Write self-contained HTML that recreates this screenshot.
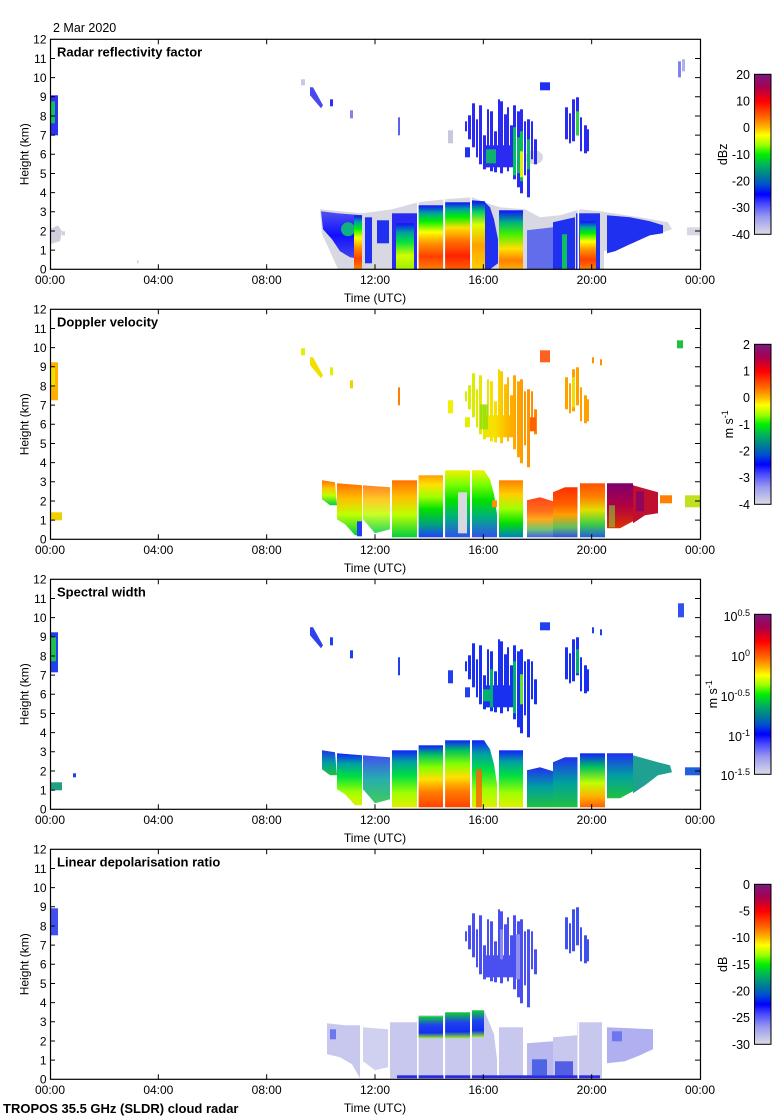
<!DOCTYPE html>
<html><head><meta charset="utf-8">
<style>
html,body{margin:0;padding:0;background:#fff;}
svg{display:block;}
text{font-family:"Liberation Sans",Arial,sans-serif;fill:#000;}
.t{font-size:12px;}
.c{font-size:12.5px;}
.b{font-size:13px;font-weight:bold;}
</style></head><body>
<svg width="780" height="1120" viewBox="0 0 780 1120" xmlns="http://www.w3.org/2000/svg">
<defs>
<clipPath id="cp"><rect x="50" y="0" width="650" height="230"/></clipPath>
<linearGradient id="cb" x1="0" y1="0" x2="0" y2="1">
<stop offset="0" stop-color="#7a1a7e"/><stop offset="0.08" stop-color="#a80050"/><stop offset="0.17" stop-color="#ff0000"/><stop offset="0.27" stop-color="#ff6a00"/><stop offset="0.33" stop-color="#ffb400"/><stop offset="0.38" stop-color="#ffff00"/><stop offset="0.44" stop-color="#a0ff00"/><stop offset="0.5" stop-color="#00f000"/><stop offset="0.57" stop-color="#00b060"/><stop offset="0.63" stop-color="#008090"/><stop offset="0.69" stop-color="#0050d0"/><stop offset="0.75" stop-color="#0000ff"/><stop offset="0.81" stop-color="#4848ff"/><stop offset="0.89" stop-color="#9898f0"/><stop offset="1" stop-color="#dcdce6"/>
</linearGradient>
<linearGradient id="zB" x1="0" y1="0" x2="0" y2="1"><stop offset="0" stop-color="#5050f0"/><stop offset="0.5" stop-color="#1010ff"/><stop offset="1" stop-color="#4848e8"/></linearGradient>
<linearGradient id="zC" x1="0" y1="0" x2="0" y2="1"><stop offset="0" stop-color="#1010ff"/><stop offset="0.12" stop-color="#00a0a0"/><stop offset="0.25" stop-color="#00f000"/><stop offset="0.42" stop-color="#ffff00"/><stop offset="0.6" stop-color="#ff9000"/><stop offset="0.8" stop-color="#ff4000"/><stop offset="1" stop-color="#ff8000"/></linearGradient>
<linearGradient id="zC2" x1="0" y1="0" x2="0" y2="1"><stop offset="0" stop-color="#1010ff"/><stop offset="0.1" stop-color="#00a0a0"/><stop offset="0.22" stop-color="#00f000"/><stop offset="0.38" stop-color="#ffe000"/><stop offset="0.58" stop-color="#ff7000"/><stop offset="0.8" stop-color="#ff2000"/><stop offset="1" stop-color="#ff6000"/></linearGradient>
<linearGradient id="zM" x1="0" y1="0" x2="0" y2="1"><stop offset="0" stop-color="#1010ff"/><stop offset="0.2" stop-color="#00a0a0"/><stop offset="0.4" stop-color="#00e040"/><stop offset="0.7" stop-color="#d0ff00"/><stop offset="1" stop-color="#a0f000"/></linearGradient>
<linearGradient id="zM2" x1="0" y1="0" x2="0" y2="1"><stop offset="0" stop-color="#1010ff"/><stop offset="0.15" stop-color="#00d060"/><stop offset="0.35" stop-color="#e0ff00"/><stop offset="0.65" stop-color="#ffa000"/><stop offset="1" stop-color="#ffd000"/></linearGradient>
<linearGradient id="zM3" x1="0" y1="0" x2="0" y2="1"><stop offset="0" stop-color="#1010ff"/><stop offset="0.2" stop-color="#00b080"/><stop offset="0.4" stop-color="#40f000"/><stop offset="0.65" stop-color="#ffe000"/><stop offset="0.85" stop-color="#ff8000"/><stop offset="1" stop-color="#ffb000"/></linearGradient>
<linearGradient id="vA" x1="0" y1="0" x2="0" y2="1"><stop offset="0" stop-color="#ff7000"/><stop offset="0.3" stop-color="#ffc000"/><stop offset="0.6" stop-color="#c0ff00"/><stop offset="1" stop-color="#00d040"/></linearGradient>
<linearGradient id="vC" x1="0" y1="0" x2="0" y2="1"><stop offset="0" stop-color="#ffa000"/><stop offset="0.15" stop-color="#ffe000"/><stop offset="0.35" stop-color="#a0ff00"/><stop offset="0.55" stop-color="#00e000"/><stop offset="0.8" stop-color="#00a080"/><stop offset="1" stop-color="#2040ff"/></linearGradient>
<linearGradient id="vE" x1="0" y1="0" x2="0" y2="1"><stop offset="0" stop-color="#f0f000"/><stop offset="0.2" stop-color="#80ff00"/><stop offset="0.45" stop-color="#00e000"/><stop offset="0.7" stop-color="#00b080"/><stop offset="1" stop-color="#3050f0"/></linearGradient>
<linearGradient id="vH" x1="0" y1="0" x2="0" y2="1"><stop offset="0" stop-color="#ff8000"/><stop offset="0.25" stop-color="#ffd000"/><stop offset="0.5" stop-color="#a0ff00"/><stop offset="0.75" stop-color="#00e000"/><stop offset="1" stop-color="#0080c0"/></linearGradient>
<linearGradient id="vR" x1="0" y1="0" x2="0" y2="1"><stop offset="0" stop-color="#ff3000"/><stop offset="0.35" stop-color="#ff6000"/><stop offset="0.55" stop-color="#ffa000"/><stop offset="0.8" stop-color="#60c060"/><stop offset="1" stop-color="#3050e0"/></linearGradient>
<linearGradient id="vK" x1="0" y1="0" x2="0" y2="1"><stop offset="0" stop-color="#ff5000"/><stop offset="0.25" stop-color="#ff8000"/><stop offset="0.5" stop-color="#e0e000"/><stop offset="0.75" stop-color="#40d040"/><stop offset="1" stop-color="#2060e0"/></linearGradient>
<linearGradient id="vP" x1="0" y1="0" x2="0" y2="1"><stop offset="0" stop-color="#800070"/><stop offset="0.5" stop-color="#b00040"/><stop offset="1" stop-color="#e03000"/></linearGradient>
<linearGradient id="vU" gradientUnits="userSpaceOnUse" x1="465" y1="0" x2="540" y2="0"><stop offset="0" stop-color="#d0f000"/><stop offset="0.4" stop-color="#f8e000"/><stop offset="0.6" stop-color="#ffb000"/><stop offset="1" stop-color="#ff8000"/></linearGradient>
<linearGradient id="wA" x1="0" y1="0" x2="0" y2="1"><stop offset="0" stop-color="#1020ff"/><stop offset="0.2" stop-color="#00a0a0"/><stop offset="0.45" stop-color="#00e040"/><stop offset="0.75" stop-color="#a0ff00"/><stop offset="1" stop-color="#e0f000"/></linearGradient>
<linearGradient id="wC" x1="0" y1="0" x2="0" y2="1"><stop offset="0" stop-color="#1020ff"/><stop offset="0.15" stop-color="#00c060"/><stop offset="0.35" stop-color="#80ff00"/><stop offset="0.55" stop-color="#ffe000"/><stop offset="0.75" stop-color="#ff8000"/><stop offset="1" stop-color="#ff4000"/></linearGradient>
<linearGradient id="wB" x1="0" y1="0" x2="0" y2="1"><stop offset="0" stop-color="#2030f0"/><stop offset="0.5" stop-color="#00a0a0"/><stop offset="1" stop-color="#20c040"/></linearGradient>
<linearGradient id="wK" x1="0" y1="0" x2="0" y2="1"><stop offset="0" stop-color="#1020ff"/><stop offset="0.25" stop-color="#00c060"/><stop offset="0.55" stop-color="#c0ff00"/><stop offset="0.8" stop-color="#ffb000"/><stop offset="1" stop-color="#ff6000"/></linearGradient>
<linearGradient id="lG" x1="0" y1="0" x2="0" y2="1"><stop offset="0" stop-color="#10d030"/><stop offset="0.4" stop-color="#2040f0"/><stop offset="0.75" stop-color="#1030f0"/><stop offset="1" stop-color="#a0f020"/></linearGradient>
<g id="upc">
<rect x="465" y="82" width="2" height="10"/><rect x="468" y="76" width="3" height="24"/><rect x="472" y="64" width="3" height="44"/><rect x="476" y="80" width="2" height="38"/><rect x="479" y="66" width="3" height="59"/><rect x="483" y="96" width="3" height="34"/><rect x="487" y="70" width="2" height="58"/><rect x="490" y="72" width="3" height="60"/><rect x="494" y="92" width="3" height="41"/><rect x="498" y="60" width="2" height="48"/><rect x="500" y="62" width="3" height="72"/><rect x="504" y="75" width="3" height="50"/><rect x="507" y="68" width="2" height="64"/><rect x="510" y="86" width="3" height="40"/><rect x="513" y="66" width="3" height="74"/><rect x="517" y="72" width="3" height="76"/><rect x="520" y="70" width="3" height="84"/><rect x="524" y="82" width="2" height="54"/><rect x="527" y="80" width="3" height="78"/><rect x="531" y="82" width="2" height="38"/><rect x="534" y="100" width="3" height="25"/>
<rect x="483" y="106" width="30" height="22"/>
</g>
<g id="upc2">
<rect x="565" y="68" width="3" height="32"/><rect x="569" y="74" width="2" height="30"/><rect x="572" y="60" width="3" height="42"/><rect x="576" y="58" width="3" height="38"/><rect x="580" y="78" width="2" height="34"/><rect x="584" y="86" width="3" height="28"/><rect x="587" y="90" width="2" height="22"/>
</g>
</defs>

<rect width="780" height="1120" fill="#fff"/>
<text class="c" x="53" y="32">2 Mar 2020</text>

<!-- ================= PANEL 1 ================= -->
<g transform="translate(0,39.3)">
<g clip-path="url(#cp)">
<path fill="#d8d8e2" d="M320,170 L340,172 L362,174 L392,170 L418,163 L445,160 L472,158 L490,165 L500,168 L525,170 L540,178 L560,176 L580,170 L600,172 L640,178 L668,183 L672,190 L660,194 L640,198 L620,206 L604,212 L604,230 L338,230 L330,212 L322,195 Z"/>
<path fill="url(#zB)" d="M321,172 L337,174 L362,176 L362,220 L350,218 L340,212 L332,200 L323,190 Z"/>
<ellipse cx="348" cy="190" rx="7" ry="7" fill="#10b080"/>
<rect x="354" y="176" width="8" height="54" fill="url(#zC)"/>
<rect x="365" y="178" width="7" height="46" fill="#2030f0"/>
<rect x="377" y="181" width="12" height="23" fill="#2030f0"/>
<rect x="392" y="174" width="25" height="56" fill="#2a2af0"/>
<rect x="396" y="184" width="18" height="46" fill="url(#zM)"/>
<rect x="418" y="166" width="25" height="64" fill="url(#zC)"/>
<rect x="445" y="163" width="25" height="67" fill="url(#zC2)"/>
<path fill="#2030f0" d="M472,161 L484,162 L490,168 L494,180 L498,200 L498,224 L490,230 L472,230Z"/>
<rect x="472" y="162" width="13" height="68" fill="url(#zM2)"/>
<rect x="499" y="171" width="24" height="59" fill="url(#zM3)"/>
<path fill="#3040f0" opacity=".7" d="M527,191 L553,188 L553,230 L527,230Z"/>
<path fill="#2030f0" d="M553,183 L575,178 L575,230 L553,230Z"/>
<rect x="562" y="195" width="5" height="35" fill="#10c060"/>
<rect x="576" y="174" width="24" height="56" fill="#2030f0"/>
<rect x="580" y="182" width="16" height="48" fill="url(#zC)"/>
<path fill="#2030f0" d="M607,176 L630,178 L650,182 L663,186 L663,194 L650,196 L630,205 L615,212 L607,214Z"/>
<rect x="687" y="188" width="13" height="8" fill="#d8d8e2"/>
<g fill="#fff"><rect x="417" y="150" width="1.6" height="80"/><rect x="443.5" y="150" width="1.6" height="80"/><rect x="470.3" y="150" width="1.6" height="80"/><rect x="577.5" y="150" width="1.6" height="80"/></g>
<!-- upper clouds -->
<ellipse cx="534" cy="118" rx="9" ry="7" fill="#d8d8e2"/>
<use href="#upc" fill="#2a2af0"/>
<rect x="513" y="88" width="3" height="48" fill="#00c060"/>
<rect x="517" y="98" width="3" height="36" fill="#10b070"/>
<rect x="520" y="92" width="3" height="50" fill="#00c060"/>
<rect x="520" y="112" width="3" height="26" fill="#e0f000"/>
<rect x="527" y="100" width="3" height="30" fill="#10b070"/>
<rect x="486" y="110" width="10" height="14" fill="#10b070"/>
<use href="#upc2" fill="#2a2af0"/>
<rect x="576" y="72" width="3" height="24" fill="#30d040"/>
<rect x="540" y="43" width="10" height="8" fill="#2030f0"/>
<rect x="678" y="22" width="3" height="16" fill="#8080f0"/><rect x="682" y="20" width="3" height="12" fill="#b0b0f0"/>
<rect x="301" y="40" width="4" height="6" fill="#c8c8e0"/>
<path fill="#4848f0" d="M310,48 L313,48 L323,66 L321,69 L310,56Z"/>
<rect x="330" y="60" width="3" height="7" fill="#3030f0"/>
<rect x="350" y="71" width="3" height="8" fill="#8080f0"/>
<rect x="398" y="78" width="2" height="18" fill="#6060f0"/>
<rect x="448" y="91" width="5" height="13" fill="#c8c8dc"/>
<rect x="465" y="108" width="5" height="10" fill="#2030f0"/>
<rect x="50" y="56" width="8" height="40" fill="#3030f0"/>
<rect x="50" y="62" width="5" height="22" fill="#10c060"/>
<path fill="#d0d0dc" d="M50,190 L58,186 L62,192 L60,202 L50,205Z"/>
<rect x="62" y="192" width="3" height="4" fill="#d0d0dc"/>
<rect x="137" y="221" width="1.5" height="3" fill="#d0d0dc"/>
</g>
<rect x="50.5" y="0" width="650" height="230" fill="none" stroke="#000" stroke-width="1.2"/>
<path stroke="#000" stroke-width="1" fill="none" d="M50,19.17h5M50,38.33h5M50,57.5h5M50,76.67h5M50,95.83h5M50,115h5M50,134.17h5M50,153.33h5M50,172.5h5M50,191.67h5M50,210.83h5M700,19.17h-5M700,38.33h-5M700,57.5h-5M700,76.67h-5M700,95.83h-5M700,115h-5M700,134.17h-5M700,153.33h-5M700,172.5h-5M700,191.67h-5M700,210.83h-5M158.33,0v5M266.67,0v5M375,0v5M483.33,0v5M591.67,0v5M158.33,230v-5M266.67,230v-5M375,230v-5M483.33,230v-5M591.67,230v-5"/>
<g class="t" text-anchor="end"><text x="46.5" y="234.3">0</text><text x="46.5" y="215.1">1</text><text x="46.5" y="196">2</text><text x="46.5" y="176.8">3</text><text x="46.5" y="157.6">4</text><text x="46.5" y="138.5">5</text><text x="46.5" y="119.3">6</text><text x="46.5" y="100.1">7</text><text x="46.5" y="81">8</text><text x="46.5" y="61.8">9</text><text x="46.5" y="42.6">10</text><text x="46.5" y="23.5">11</text><text x="46.5" y="4.3">12</text></g>
<g class="t" text-anchor="middle"><text x="50" y="244.5">00:00</text><text x="158.33" y="244.5">04:00</text><text x="266.67" y="244.5">08:00</text><text x="375" y="244.5">12:00</text><text x="483.33" y="244.5">16:00</text><text x="591.67" y="244.5">20:00</text><text x="700" y="244.5">00:00</text><text x="375" y="262.5">Time (UTC)</text></g>
<text class="t" text-anchor="middle" transform="translate(28.5,115) rotate(-90)">Height (km)</text>
<text class="b" x="57" y="17">Radar reflectivity factor</text>
<rect x="754.5" y="35" width="16.5" height="160" fill="url(#cb)" stroke="#000" stroke-width="1"/>
<g class="c" text-anchor="end"><text x="750" y="39.5">20</text><text x="750" y="66.2">10</text><text x="750" y="92.8">0</text><text x="750" y="119.5">-10</text><text x="750" y="146.2">-20</text><text x="750" y="172.8">-30</text><text x="750" y="199.5">-40</text></g>
<text class="c" text-anchor="middle" transform="translate(727,115) rotate(-90)">dBz</text>
</g>

<!-- ================= PANEL 2 ================= -->
<g transform="translate(0,309.3)">
<g clip-path="url(#cp)">
<path fill="url(#vA)" d="M322,171 L335,173 L337,196 L330,196 L322,190Z"/>
<path fill="url(#vA)" d="M337,174 L362,176 L362,226 L355,226 L345,215 L337,210Z"/>
<rect x="357" y="212" width="5" height="15" fill="#2040f0"/>
<path fill="url(#vA)" opacity=".85" d="M363,176 L390,178 L390,220 L375,224 L363,210Z"/>
<rect x="392" y="171" width="25" height="57" fill="url(#vA)"/>
<rect x="418" y="166" width="25" height="62" fill="url(#vC)"/>
<rect x="445" y="161" width="25" height="67" fill="url(#vE)"/>
<rect x="458" y="183" width="9" height="41" fill="#d8d8e0"/>
<path fill="url(#vE)" d="M472,161 L484,161 L490,170 L494,185 L497,205 L497,228 L472,228Z"/>
<rect x="492" y="191" width="5" height="7" fill="#ff9000"/>
<rect x="499" y="171" width="24" height="57" fill="url(#vH)"/>
<path fill="url(#vR)" opacity=".9" d="M527,191 L540,188 L553,192 L553,228 L527,228Z"/>
<path fill="url(#vR)" d="M553,183 L565,178 L578,178 L578,228 L553,228Z"/>
<rect x="580" y="174" width="25" height="54" fill="url(#vK)"/>
<path fill="url(#vP)" d="M607,174 L633,174 L633,212 L620,219 L607,219Z"/>
<rect x="609" y="196" width="6" height="22" fill="#80d040" opacity=".6"/>
<path fill="#c01030" d="M633,176 L658,183 L658,204 L645,206 L633,214Z"/>
<rect x="636" y="182" width="8" height="20" fill="#800070" opacity=".7"/>
<rect x="660" y="186" width="12" height="8" fill="#ff8000"/>
<rect x="685" y="186" width="15" height="12" fill="#c0e020"/>
<g fill="#fff"><rect x="417" y="150" width="1.6" height="80"/><rect x="443.5" y="150" width="1.6" height="80"/><rect x="470.3" y="150" width="1.6" height="80"/><rect x="577.5" y="150" width="1.6" height="80"/></g>
<use href="#upc" fill="url(#vU)"/>
<rect x="480" y="95" width="8" height="25" fill="#90e000" opacity=".8"/>
<rect x="530" y="108" width="6" height="14" fill="#ff6000"/>
<use href="#upc2" fill="#ffa000"/>
<rect x="572" y="68" width="3" height="30" fill="#f0e000"/>
<rect x="540" y="41" width="10" height="12" fill="#ff6020"/>
<rect x="592" y="48" width="2" height="6" fill="#ff9000"/><rect x="600" y="50" width="2" height="6" fill="#ff9000"/>
<rect x="677" y="31" width="6" height="8" fill="#20c040"/>
<rect x="301" y="39" width="4" height="7" fill="#e0f000"/>
<path fill="#f0e000" d="M310,48 L313,48 L323,66 L321,69 L310,56Z"/>
<rect x="330" y="58" width="3" height="8" fill="#e0f000"/>
<rect x="350" y="71" width="3" height="8" fill="#f0d000"/>
<rect x="398" y="78" width="2" height="18" fill="#ff8000"/>
<rect x="448" y="91" width="5" height="13" fill="#f0f000"/>
<rect x="465" y="108" width="5" height="10" fill="#e0f000"/>
<rect x="50" y="53" width="8" height="38" fill="#ffb000"/>
<rect x="50" y="58" width="5" height="20" fill="#f0e000"/>
<rect x="50" y="203" width="12" height="8" fill="#f0d000"/>
</g>
<rect x="50.5" y="0" width="650" height="230" fill="none" stroke="#000" stroke-width="1.2"/>
<path stroke="#000" stroke-width="1" fill="none" d="M50,19.17h5M50,38.33h5M50,57.5h5M50,76.67h5M50,95.83h5M50,115h5M50,134.17h5M50,153.33h5M50,172.5h5M50,191.67h5M50,210.83h5M700,19.17h-5M700,38.33h-5M700,57.5h-5M700,76.67h-5M700,95.83h-5M700,115h-5M700,134.17h-5M700,153.33h-5M700,172.5h-5M700,191.67h-5M700,210.83h-5M158.33,0v5M266.67,0v5M375,0v5M483.33,0v5M591.67,0v5M158.33,230v-5M266.67,230v-5M375,230v-5M483.33,230v-5M591.67,230v-5"/>
<g class="t" text-anchor="end"><text x="46.5" y="234.3">0</text><text x="46.5" y="215.1">1</text><text x="46.5" y="196">2</text><text x="46.5" y="176.8">3</text><text x="46.5" y="157.6">4</text><text x="46.5" y="138.5">5</text><text x="46.5" y="119.3">6</text><text x="46.5" y="100.1">7</text><text x="46.5" y="81">8</text><text x="46.5" y="61.8">9</text><text x="46.5" y="42.6">10</text><text x="46.5" y="23.5">11</text><text x="46.5" y="4.3">12</text></g>
<g class="t" text-anchor="middle"><text x="50" y="244.5">00:00</text><text x="158.33" y="244.5">04:00</text><text x="266.67" y="244.5">08:00</text><text x="375" y="244.5">12:00</text><text x="483.33" y="244.5">16:00</text><text x="591.67" y="244.5">20:00</text><text x="700" y="244.5">00:00</text><text x="375" y="262.5">Time (UTC)</text></g>
<text class="t" text-anchor="middle" transform="translate(28.5,115) rotate(-90)">Height (km)</text>
<text class="b" x="57" y="17">Doppler velocity</text>
<rect x="754.5" y="35" width="16.5" height="160" fill="url(#cb)" stroke="#000" stroke-width="1"/>
<g class="c" text-anchor="end"><text x="750" y="39.5">2</text><text x="750" y="66.2">1</text><text x="750" y="92.8">0</text><text x="750" y="119.5">-1</text><text x="750" y="146.2">-2</text><text x="750" y="172.8">-3</text><text x="750" y="199.5">-4</text></g>
<text class="c" text-anchor="middle" transform="translate(733,115) rotate(-90)">m s<tspan font-size="9" dy="-5">-1</tspan></text>
</g>

<!-- ================= PANEL 3 ================= -->
<g transform="translate(0,579.3)">
<g clip-path="url(#cp)">
<path fill="url(#wB)" d="M322,171 L335,173 L337,196 L330,196 L322,190Z"/>
<path fill="url(#wA)" d="M337,174 L362,176 L362,226 L355,226 L345,215 L337,210Z"/>
<path fill="url(#wB)" opacity=".85" d="M363,176 L390,178 L390,220 L375,224 L363,210Z"/>
<rect x="392" y="171" width="25" height="57" fill="url(#wA)"/>
<rect x="418" y="166" width="25" height="62" fill="url(#wC)"/>
<rect x="445" y="161" width="25" height="67" fill="url(#wC)"/>
<path fill="url(#wA)" d="M472,161 L484,161 L490,170 L494,185 L497,205 L497,228 L472,228Z"/>
<rect x="476" y="190" width="6" height="38" fill="#ff6000" opacity=".8"/>
<rect x="499" y="171" width="24" height="57" fill="url(#wA)"/>
<path fill="url(#wB)" d="M527,191 L540,188 L553,192 L553,228 L527,228Z"/>
<path fill="url(#wB)" d="M553,183 L565,178 L578,178 L578,228 L553,228Z"/>
<rect x="580" y="174" width="25" height="54" fill="url(#wK)"/>
<path fill="url(#wB)" d="M607,174 L633,174 L633,212 L620,219 L607,219Z"/>
<path fill="#20a090" d="M633,176 L658,183 L670,186 L672,193 L658,196 L645,206 L633,214Z"/>
<rect x="685" y="188" width="15" height="8" fill="#2060e0"/>
<g fill="#fff"><rect x="417" y="150" width="1.6" height="80"/><rect x="443.5" y="150" width="1.6" height="80"/><rect x="470.3" y="150" width="1.6" height="80"/><rect x="577.5" y="150" width="1.6" height="80"/></g>
<use href="#upc" fill="#1a30f0"/>
<rect x="490" y="90" width="3" height="38" fill="#00b070"/>
<rect x="513" y="82" width="3" height="52" fill="#00b070"/>
<rect x="520" y="95" width="3" height="30" fill="#60e030"/>
<rect x="483" y="110" width="8" height="12" fill="#00b070"/>
<use href="#upc2" fill="#1a30f0"/>
<rect x="576" y="70" width="3" height="24" fill="#00b070"/>
<rect x="540" y="43" width="10" height="8" fill="#2040f0"/>
<rect x="592" y="48" width="2" height="6" fill="#2040f0"/><rect x="600" y="50" width="2" height="6" fill="#2040f0"/>
<rect x="678" y="24" width="6" height="14" fill="#3050f0"/>
<path fill="#3040f0" d="M310,48 L313,48 L323,66 L321,69 L310,56Z"/>
<rect x="330" y="58" width="3" height="8" fill="#2040f0"/>
<rect x="350" y="71" width="3" height="8" fill="#2040f0"/>
<rect x="398" y="78" width="2" height="18" fill="#2040f0"/>
<rect x="448" y="91" width="5" height="13" fill="#2040f0"/>
<rect x="465" y="108" width="5" height="10" fill="#2040f0"/>
<rect x="50" y="53" width="8" height="40" fill="#2040f0"/>
<rect x="50" y="58" width="6" height="24" fill="#20c050"/>
<rect x="50" y="203" width="12" height="8" fill="#20a080"/>
<rect x="73" y="194" width="3" height="4" fill="#2040f0"/>
</g>
<rect x="50.5" y="0" width="650" height="230" fill="none" stroke="#000" stroke-width="1.2"/>
<path stroke="#000" stroke-width="1" fill="none" d="M50,19.17h5M50,38.33h5M50,57.5h5M50,76.67h5M50,95.83h5M50,115h5M50,134.17h5M50,153.33h5M50,172.5h5M50,191.67h5M50,210.83h5M700,19.17h-5M700,38.33h-5M700,57.5h-5M700,76.67h-5M700,95.83h-5M700,115h-5M700,134.17h-5M700,153.33h-5M700,172.5h-5M700,191.67h-5M700,210.83h-5M158.33,0v5M266.67,0v5M375,0v5M483.33,0v5M591.67,0v5M158.33,230v-5M266.67,230v-5M375,230v-5M483.33,230v-5M591.67,230v-5"/>
<g class="t" text-anchor="end"><text x="46.5" y="234.3">0</text><text x="46.5" y="215.1">1</text><text x="46.5" y="196">2</text><text x="46.5" y="176.8">3</text><text x="46.5" y="157.6">4</text><text x="46.5" y="138.5">5</text><text x="46.5" y="119.3">6</text><text x="46.5" y="100.1">7</text><text x="46.5" y="81">8</text><text x="46.5" y="61.8">9</text><text x="46.5" y="42.6">10</text><text x="46.5" y="23.5">11</text><text x="46.5" y="4.3">12</text></g>
<g class="t" text-anchor="middle"><text x="50" y="244.5">00:00</text><text x="158.33" y="244.5">04:00</text><text x="266.67" y="244.5">08:00</text><text x="375" y="244.5">12:00</text><text x="483.33" y="244.5">16:00</text><text x="591.67" y="244.5">20:00</text><text x="700" y="244.5">00:00</text><text x="375" y="262.5">Time (UTC)</text></g>
<text class="t" text-anchor="middle" transform="translate(28.5,115) rotate(-90)">Height (km)</text>
<text class="b" x="57" y="17">Spectral width</text>
<rect x="754.5" y="35" width="16.5" height="160" fill="url(#cb)" stroke="#000" stroke-width="1"/>
<g class="c" text-anchor="end"><text x="750" y="41.5">10<tspan font-size="9" dy="-5">0.5</tspan></text><text x="750" y="81.5">10<tspan font-size="9" dy="-5">0</tspan></text><text x="750" y="121.5">10<tspan font-size="9" dy="-5">-0.5</tspan></text><text x="750" y="161.5">10<tspan font-size="9" dy="-5">-1</tspan></text><text x="750" y="200.5">10<tspan font-size="9" dy="-5">-1.5</tspan></text></g>
<text class="c" text-anchor="middle" transform="translate(717,115) rotate(-90)">m s<tspan font-size="9" dy="-5">-1</tspan></text>
</g>

<!-- ================= PANEL 4 ================= -->
<g transform="translate(0,849.3)">
<g clip-path="url(#cp)">
<path fill="#c8c8ee" d="M327,174 L345,176 L360,176 L360,229 L352,215 L340,208 L327,205Z"/>
<rect x="330" y="180" width="6" height="10" fill="#3040f0" opacity=".6"/>
<path fill="#c8c8ee" opacity=".85" d="M363,178 L388,180 L388,218 L375,221 L363,212Z"/>
<rect x="390" y="173" width="27" height="56" fill="#c8c8ee"/>
<rect x="418" y="166" width="25" height="63" fill="#c8c8ee"/>
<rect x="445" y="163" width="25" height="66" fill="#c8c8ee"/>
<path fill="#c8c8ee" d="M472,161 L484,161 L490,175 L494,185 L497,210 L497,229 L472,229Z"/>
<rect x="418" y="167" width="25" height="22" fill="url(#lG)"/>
<rect x="445" y="163" width="25" height="26" fill="url(#lG)"/>
<rect x="472" y="161" width="12" height="27" fill="url(#lG)"/>
<rect x="499" y="178" width="24" height="51" fill="#c8c8ee"/>
<path fill="#b8b8ee" d="M527,194 L553,192 L553,229 L527,229Z"/>
<rect x="532" y="210" width="15" height="16" fill="#2040e0" opacity=".7"/>
<path fill="#c8c8ee" d="M553,188 L577,186 L577,229 L553,229Z"/>
<rect x="555" y="212" width="18" height="15" fill="#2030e0" opacity=".7"/>
<rect x="577" y="173" width="25" height="56" fill="#c8c8ee"/>
<path fill="#b0b0f0" d="M607,178 L653,180 L653,200 L640,206 L625,212 L607,214Z"/>
<rect x="612" y="182" width="10" height="10" fill="#4050f0" opacity=".6"/>
<rect x="397" y="226" width="203" height="3" fill="#2a2ae0"/>
<g fill="#fff"><rect x="417" y="150" width="1.6" height="80"/><rect x="443.5" y="150" width="1.6" height="80"/><rect x="470.3" y="150" width="1.6" height="80"/><rect x="577.5" y="150" width="1.6" height="80"/></g>
<use href="#upc" fill="#4a50f0"/>
<rect x="516" y="85" width="4" height="45" fill="#9090f0"/>
<rect x="500" y="80" width="3" height="30" fill="#8888f0"/>
<use href="#upc2" fill="#4050f0"/>
<rect x="50" y="59" width="8" height="27" fill="#4050f0"/>
</g>
<rect x="50.5" y="0" width="650" height="230" fill="none" stroke="#000" stroke-width="1.2"/>
<path stroke="#000" stroke-width="1" fill="none" d="M50,19.17h5M50,38.33h5M50,57.5h5M50,76.67h5M50,95.83h5M50,115h5M50,134.17h5M50,153.33h5M50,172.5h5M50,191.67h5M50,210.83h5M700,19.17h-5M700,38.33h-5M700,57.5h-5M700,76.67h-5M700,95.83h-5M700,115h-5M700,134.17h-5M700,153.33h-5M700,172.5h-5M700,191.67h-5M700,210.83h-5M158.33,0v5M266.67,0v5M375,0v5M483.33,0v5M591.67,0v5M158.33,230v-5M266.67,230v-5M375,230v-5M483.33,230v-5M591.67,230v-5"/>
<g class="t" text-anchor="end"><text x="46.5" y="234.3">0</text><text x="46.5" y="215.1">1</text><text x="46.5" y="196">2</text><text x="46.5" y="176.8">3</text><text x="46.5" y="157.6">4</text><text x="46.5" y="138.5">5</text><text x="46.5" y="119.3">6</text><text x="46.5" y="100.1">7</text><text x="46.5" y="81">8</text><text x="46.5" y="61.8">9</text><text x="46.5" y="42.6">10</text><text x="46.5" y="23.5">11</text><text x="46.5" y="4.3">12</text></g>
<g class="t" text-anchor="middle"><text x="50" y="244.5">00:00</text><text x="158.33" y="244.5">04:00</text><text x="266.67" y="244.5">08:00</text><text x="375" y="244.5">12:00</text><text x="483.33" y="244.5">16:00</text><text x="591.67" y="244.5">20:00</text><text x="700" y="244.5">00:00</text><text x="375" y="262.5">Time (UTC)</text></g>
<text class="t" text-anchor="middle" transform="translate(28.5,115) rotate(-90)">Height (km)</text>
<text class="b" x="57" y="17">Linear depolarisation ratio</text>
<rect x="754.5" y="35" width="16.5" height="160" fill="url(#cb)" stroke="#000" stroke-width="1"/>
<g class="c" text-anchor="end"><text x="750" y="39.5">0</text><text x="750" y="66.2">-5</text><text x="750" y="92.8">-10</text><text x="750" y="119.5">-15</text><text x="750" y="146.2">-20</text><text x="750" y="172.8">-25</text><text x="750" y="199.5">-30</text></g>
<text class="c" text-anchor="middle" transform="translate(727,115) rotate(-90)">dB</text>
</g>

<text class="b" x="3" y="1113">TROPOS 35.5 GHz (SLDR) cloud radar</text>
</svg>
</body></html>
